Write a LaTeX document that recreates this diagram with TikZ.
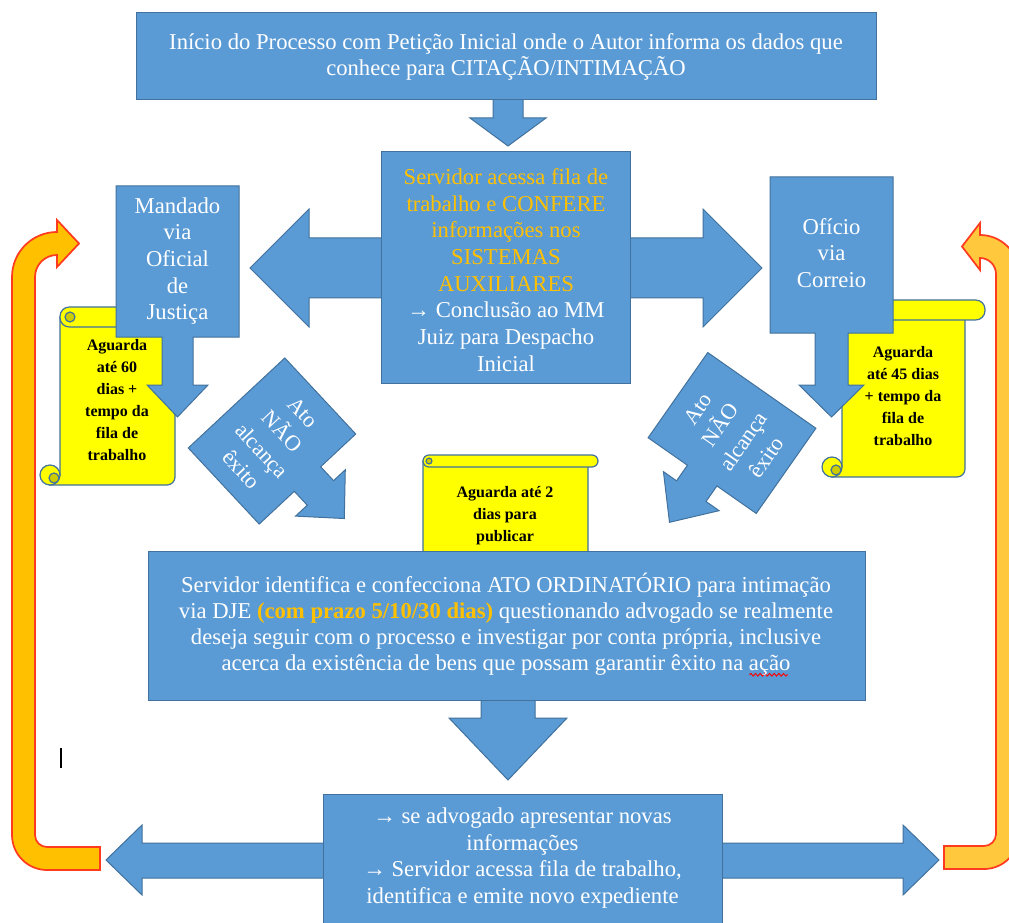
\documentclass[tikz,border=0pt]{standalone}
\usepackage{fontspec}
\IfFontExistsTF{LiberationSerif-Regular.ttf}
  {\setmainfont{LiberationSerif}[Extension=.ttf,UprightFont=*-Regular,BoldFont=*-Bold,ItalicFont=*-Italic,BoldItalicFont=*-BoldItalic]}
  {\setmainfont{Liberation Serif}}
\usetikzlibrary{decorations.pathmorphing}
\definecolor{myblue}{HTML}{5B9BD5}
\definecolor{myborder}{HTML}{41719C}
\definecolor{gold}{HTML}{FFC000}
\definecolor{scrollyellow}{HTML}{FFFF00}
\definecolor{curldark}{HTML}{CCCC00}
\definecolor{orangeL}{HTML}{FFC000}
\definecolor{orangeR}{HTML}{FFC83D}
\definecolor{redline}{HTML}{FF3B1F}
\newcommand\squiggle{\rlap{\tikz[baseline=0pt,x=1pt,y=1pt]\draw[red,line width=0.7pt,decorate,decoration={snake,amplitude=1pt,segment length=3.5pt}] (1,-3.5) -- (30,-3.5);}}
\begin{document}
\begin{tikzpicture}[x=0.75pt,y=-0.75pt,
  bluebox/.style={fill=myblue,draw=myborder,line width=0.75pt},
  scrollsty/.style={fill=scrollyellow,draw=myborder,line width=0.9pt},
  curlsty/.style={fill=curldark,draw=myborder,line width=0.9pt},
  uarrow/.style={draw=redline,line width=1.3pt},
  btext/.style={text=white,align=center,inner sep=0pt,font=\fontsize{17}{20}\selectfont},
  ytext/.style={text=black,align=center,inner sep=0pt,font=\bfseries\fontsize{12}{16.5}\selectfont}]
\useasboundingbox (0,0) rectangle (1009,923);
\clip (0,0) rectangle (1009,923);

% ---------- orange U arrows ----------
\filldraw[uarrow,fill=orangeL] (100,870) -- (47,870) .. controls (27.7,870) and (12,854.3) .. (12,835)
  -- (12,277) .. controls (12,252.1) and (32.1,232) .. (57,232) -- (57,220) -- (79,243.5) -- (57,267) -- (57,255)
  .. controls (44.8,255) and (35,264.8) .. (35,277) -- (35,835) .. controls (35,841.6) and (40.4,847) .. (47,847)
  -- (100,847) -- cycle;
\filldraw[uarrow,fill=orangeR] (944,869) -- (984,869) .. controls (1003.3,869) and (1019,853.3) .. (1019,834)
  -- (1019,274) .. controls (1019,252.5) and (1001.5,235) .. (980,235) -- (980,223) -- (962,246.5) -- (980,270) -- (980,258)
  .. controls (988.8,258) and (996,265.2) .. (996,274) -- (996,834) .. controls (996,840.6) and (990.6,846) .. (984,846)
  -- (944,846) -- cycle;

% ---------- top box ----------
\filldraw[bluebox] (493,99) -- (523,99) -- (523,118) -- (546,118) -- (508,146) -- (470,118) -- (493,118) -- cycle;
\filldraw[bluebox] (136,13) rectangle (876,100);
\node[btext] (start) at (506,57) {Início do Processo com Petição Inicial onde o Autor informa os dados que\\conhece para CITAÇÃO/INTIMAÇÃO};

% ---------- center double arrow + box ----------
\filldraw[bluebox] (250,268) -- (309,209) -- (309,238) -- (703,238) -- (703,209) -- (762,268) -- (703,327) -- (703,298) -- (309,298) -- (309,327) -- cycle;
\filldraw[bluebox] (381,152) rectangle (630,383);
\node[btext] (confere) at (506,270) {{\color{gold}Servidor acessa fila de}\\{\color{gold}trabalho e CONFERE}\\{\color{gold}informações nos}\\{\color{gold}SISTEMAS}\\{\color{gold}AUXILIARES}\\→ Conclusão ao MM\\Juiz para Despacho\\Inicial};

% ---------- left scroll ----------
\filldraw[scrollsty] (50,485) [rounded corners=6pt] -- (175,485) [sharp corners] -- (175,317) -- (60,317) -- (60,475) -- cycle;
\filldraw[scrollsty,rounded corners=7pt] (60,307) rectangle (195,327);
\filldraw[curlsty] (70,317) circle[radius=3.75pt];
\filldraw[scrollsty] (50,475) circle[radius=7.5pt];
\filldraw[curlsty] (54,478) circle[radius=3.75pt];
\node[ytext] (wait60) at (117,400) {Aguarda\\até 60\\dias +\\tempo da\\fila de\\trabalho};

% ---------- Mandado callout ----------
\filldraw[bluebox] (116,186) -- (239,186) -- (239,337) -- (193,337) -- (193,385) -- (208,385) -- (177.5,417) -- (147,385) -- (162,385) -- (162,337) -- (116,337) -- cycle;
\node[btext] (mandado) at (177.5,261) {Mandado\\via\\Oficial\\de\\Justiça};

% ---------- right scroll ----------
\filldraw[scrollsty] (832,477) [rounded corners=6pt] -- (965,477) [sharp corners] -- (965,310) -- (842,310) -- (842,467) -- cycle;
\filldraw[scrollsty,rounded corners=7pt] (842,300) rectangle (985,320);
\filldraw[curlsty] (852,310) circle[radius=3.75pt];
\filldraw[scrollsty] (832,467) circle[radius=7.5pt];
\filldraw[curlsty] (836,470) circle[radius=3.75pt];
\node[ytext] (wait45) at (903,396) {Aguarda\\até 45 dias\\+ tempo da\\fila de\\trabalho};

% ---------- Oficio callout ----------
\filldraw[bluebox] (770,177) -- (893,177) -- (893,333) -- (848,333) -- (848,385) -- (864,385) -- (831.5,417) -- (799,385) -- (815,385) -- (815,333) -- (770,333) -- cycle;
\node[btext] (oficio) at (831.5,253) {Ofício\\via\\Correio};

% ---------- diagonal callouts ----------
\begin{scope}[shift={(272,441)},rotate=-47,y=0.75pt]
\filldraw[bluebox] (-52,66) -- (52,66) -- (52,18) -- (71,18) -- (71,34) -- (106,0) -- (71,-34) -- (71,-18) -- (52,-18) -- (52,-66) -- (-52,-66) -- cycle;
\end{scope}
\node[btext,rotate=-47,font=\fontsize{16.5}{21}\selectfont] (falhaL) at (272,441) {Ato\\NÃO\\alcança\\êxito};
\begin{scope}[shift={(732,433)},rotate=55,y=0.75pt]
\filldraw[bluebox] (52,66) -- (-52,66) -- (-52,18) -- (-71,18) -- (-71,34) -- (-109,0) -- (-71,-34) -- (-71,-18) -- (-52,-18) -- (-52,-66) -- (52,-66) -- cycle;
\end{scope}
\node[btext,rotate=55,font=\fontsize{16.5}{21}\selectfont] (falhaR) at (732,433) {Ato\\NÃO\\alcança\\êxito};

% ---------- middle scroll ----------
\filldraw[scrollsty] (417,575) -- (588,575) -- (588,461) -- (423,461) -- (423,569) -- cycle;
\filldraw[scrollsty,rounded corners=4.5pt] (423,455) rectangle (598,467);
\filldraw[curlsty] (429,461) circle[radius=2.2pt];
\node[ytext] (wait2) at (505,516) {Aguarda até 2\\dias para\\publicar};

% ---------- bottom box ----------
\filldraw[bluebox] (481,699) -- (535,699) -- (535,718) -- (567,718) -- (508,780) -- (449,718) -- (481,718) -- cycle;
\filldraw[bluebox] (148,551) rectangle (865,700);
\node[btext,font=\fontsize{17}{19.3}\selectfont] (ato) at (506,625) {Servidor identifica e confecciona ATO ORDINATÓRIO para intimação\\via DJE {\color{gold}\bfseries (com prazo 5/10/30 dias)} questionando advogado se realmente\\deseja seguir com o processo e investigar por conta própria, inclusive\\acerca da existência de bens que possam garantir êxito na \squiggle ação};

% ---------- last box ----------
\filldraw[bluebox] (106,860) -- (142,825) -- (142,843) -- (903,843) -- (903,825) -- (939,860) -- (903,895) -- (903,878) -- (142,878) -- (142,895) -- cycle;
\filldraw[bluebox] (323,794) rectangle (722,935);
\node[btext] (novo) at (522.5,858) {→ se advogado apresentar novas\\informações\\→ Servidor acessa fila de trabalho,\\identifica e emite novo expediente};

% ---------- cursor mark ----------
\draw[line width=1pt] (61,748) -- (61,768);
\end{tikzpicture}
\end{document}
